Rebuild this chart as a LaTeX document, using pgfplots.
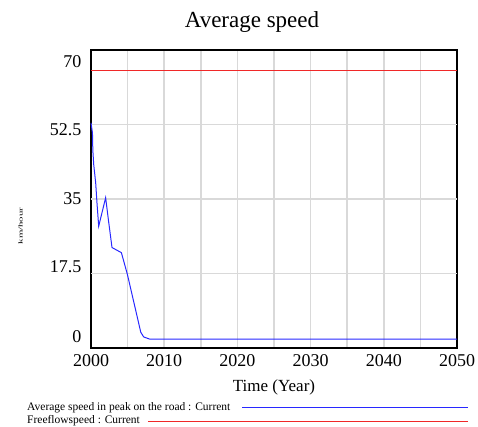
\documentclass[border=0pt]{standalone}
\usepackage{pgfplots}
\pgfplotsset{compat=1.18}
\usepackage{fontspec}
\setmainfont{Liberation Serif}
\definecolor{vblue}{RGB}{40,40,255}
\definecolor{vred}{RGB}{240,40,40}
\begin{document}
\begin{tikzpicture}[x=1pt,y=1pt]
\path[use as bounding box] (0,0) rectangle (478,426);
\begin{axis}[
  at={(91pt,78pt)}, anchor=south west,
  scale only axis, width=366pt, height=298pt,
  xmin=2000, xmax=2050, ymin=0, ymax=70,
  axis line style={line width=1.6pt, black},
  major tick length=0pt, minor tick length=0pt,
  xtick={2000,2010,2020,2030,2040,2050},
  minor xtick={2005,2015,2025,2035,2045},
  xmajorgrids, xminorgrids,
  ytick={2.6,19,35.1,51.3,67.2},
  yticklabels={0,17.5,35,52.5,70},
  extra y ticks={17.5,35,52.5},
  extra y tick labels={},
  extra y tick style={grid=major},
  grid style={gray!30, line width=1.5pt},
  minor grid style={gray!30, line width=1.5pt},
  /pgf/number format/assume math mode=true,
  /pgf/number format/1000 sep={},
  ticklabel style={font=\fontsize{18}{20}\selectfont},
  xticklabel style={yshift=-3pt},
  yticklabel style={xshift=-6pt},
  xlabel={Time (Year)},
  xlabel style={font=\fontsize{17}{19}\selectfont, yshift=-6pt},
  clip=false,
]
\addplot[vred, line width=1pt] coordinates {(2000,65.1) (2050,65.1)};
\addplot[vblue, line width=1pt] coordinates {
(2000,52.9) (2000.2,50.5) (2000.25,46.5) (2000.37,43.1) (2000.64,38.8)
(2000.8,34.5) (2001.05,28.6) (2002.0,35.3) (2002.4,29.8) (2002.87,23.6)
(2004.15,22.4) (2004.97,17.3) (2006.8,3.7) (2007.2,2.6) (2008.0,2.1) (2050,2.1)};
\draw[vblue, line width=1.6pt] (rel axis cs:0.4126,-0.1997) -- (rel axis cs:1.030,-0.1997);
\draw[vred, line width=1.6pt] (rel axis cs:0.1557,-0.2466) -- (rel axis cs:1.030,-0.2466);
\end{axis}
\node[font=\fontsize{23}{25}\selectfont] at (252,404) {Average speed};
\node[rotate=90, font=\fontsize{6}{7}\selectfont] at (20.5,200) {\scalebox{1.8}[1]{km/hour}};
\node[anchor=west, inner sep=0pt, font=\fontsize{11.5}{12}\selectfont] at (27,18.5) {Average speed in peak on the road : Current};
\node[anchor=west, inner sep=0pt, font=\fontsize{11.5}{12}\selectfont] at (27,5) {Freeflowspeed : Current};
\end{tikzpicture}
\end{document}
